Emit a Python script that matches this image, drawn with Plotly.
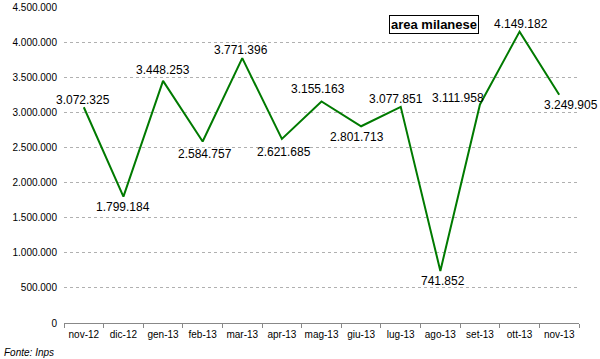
import plotly.graph_objects as go

months = ["nov-12", "dic-12", "gen-13", "feb-13", "mar-13", "apr-13", "mag-13",
          "giu-13", "lug-13", "ago-13", "set-13", "ott-13", "nov-13"]
values = [3072325, 1799184, 3448253, 2584757, 3771396, 2621685, 3155163,
          2801713, 3077851, 741852, 3111958, 4149182, 3249905]
y_ticks = [0, 500000, 1000000, 1500000, 2000000, 2500000, 3000000, 3500000, 4000000, 4500000]

# label offsets (pixels) relative to each point: (x shift, y shift)
label_dx = [-1, 0, 0, 2, -1, 2, -4, -4, -5, 3, -22, 1, 12]
label_dy = [7, -10, 11, -13, 8, -13, 12, -11, 8, -10, 6, 8, -10]

labels = [f"{v:,}".replace(",", ".") for v in values]

fig = go.Figure()
fig.add_trace(go.Scatter(
    x=months, y=values, mode="lines",
    line=dict(color="#007a00", width=2),
    cliponaxis=False, showlegend=False, hoverinfo="skip",
))

annotations = []
for m, v, t, dx, dy in zip(months, values, labels, label_dx, label_dy):
    annotations.append(dict(
        x=m, y=v, text=t, showarrow=False, xshift=dx, yshift=dy,
        xanchor="center", yanchor="middle",
        font=dict(family="Liberation Sans, Arial", size=12, color="black"),
    ))

annotations += [
    dict(text="<b>area milanese</b>", xref="paper", yref="paper",
         x=(434 - 64) / 515, y=(323 - 24.5) / 316, xanchor="center", yanchor="middle",
         showarrow=False,
         font=dict(size=13, color="black"), bordercolor="black",
         borderwidth=1, borderpad=1, bgcolor="white"),
    dict(text="<i>Fonte: Inps</i>", xref="paper", yref="paper",
         x=(2 - 64) / 515, y=-(352 - 323) / 316, xanchor="left", yanchor="middle",
         showarrow=False, font=dict(size=10, color="black")),
]

fig.update_layout(
    width=600, height=359,
    margin=dict(l=64, r=21, t=7, b=36, autoexpand=False),
    paper_bgcolor="white", plot_bgcolor="white",
    separators=",.",
    font=dict(family="Liberation Sans, Arial", size=10, color="black"),
    xaxis=dict(
        type="category", tickson="boundaries", ticks="outside", ticklen=4,
        tickcolor="#888888", showline=True, linecolor="#888888", linewidth=1,
        showgrid=False, tickfont=dict(size=10), tickangle=0,
        range=[-0.5, 12.5], automargin=False, ticklabelstandoff=2,
    ),
    yaxis=dict(
        range=[0, 4500000], tickvals=y_ticks, tickformat=",d",
        showgrid=True, gridcolor="#b0b0b0", griddash="dot", gridwidth=1,
        showline=False, zeroline=False, ticks="", ticklabelstandoff=6,
        tickfont=dict(size=10), automargin=False,
    ),
    annotations=annotations,
)

fig.write_html(
    "out.html",
    config={"displayModeBar": False},
    post_script="document.body.style.margin='0';document.body.style.overflow='hidden';",
)
